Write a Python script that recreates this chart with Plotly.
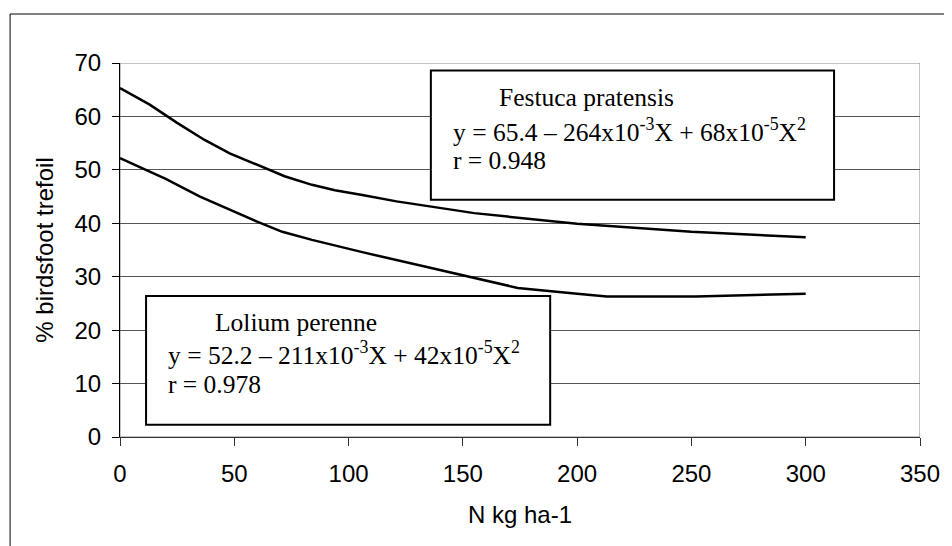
import plotly.graph_objects as go

# ---- data ----
n_festuca = [0, 13, 25, 37, 48, 60, 72, 84, 94, 106, 121, 155, 200, 250, 300]
festuca = [65.3, 62.2, 58.8, 55.6, 53.1, 50.9, 48.8, 47.2, 46.2, 45.3, 44.1, 41.9, 39.9, 38.4, 37.4]

n_lolium = [0, 20, 35, 60, 71, 84, 106, 128, 157, 174, 200, 213, 252, 300]
lolium = [52.2, 48.3, 45.0, 40.3, 38.4, 36.9, 34.6, 32.4, 29.6, 27.9, 26.8, 26.3, 26.3, 26.8]

x_ticks = [0, 50, 100, 150, 200, 250, 300, 350]
y_ticks = [0, 10, 20, 30, 40, 50, 60, 70]

x_title = "N kg ha-1"
y_title = "% birdsfoot trefoil"

fest_lines = ["Festuca pratensis",
              "y = 65.4 – 264x10<sup>-3</sup>X + 68x10<sup>-5</sup>X<sup>2</sup>",
              "r = 0.948"]
lol_lines = ["Lolium perenne",
             "y = 52.2 – 211x10<sup>-3</sup>X + 42x10<sup>-5</sup>X<sup>2</sup>",
             "r = 0.978"]

SANS = "Liberation Sans, Arial, sans-serif"
SERIF = "Liberation Serif, Times New Roman, serif"

fig = go.Figure()
fig.add_trace(go.Scatter(x=n_festuca, y=festuca, mode="lines",
                         line=dict(color="black", width=2.5), showlegend=False))
fig.add_trace(go.Scatter(x=n_lolium, y=lolium, mode="lines",
                         line=dict(color="black", width=2.5), showlegend=False))

# outer chart frame
fig.add_shape(type="rect", xref="paper", yref="paper",
              x0=-0.1374, x1=1.06, y0=-0.36, y1=1.131,
              line=dict(color="black", width=1), layer="below")
# plot area border (top / right)
fig.add_shape(type="rect", xref="x", yref="y", x0=0, x1=350, y0=0, y1=70,
              line=dict(color="#888888", width=1), layer="below")

# equation boxes
fig.add_shape(type="rect", xref="x", yref="y", x0=136, x1=312.4, y0=44.4, y1=68.6,
              line=dict(color="black", width=2), fillcolor="white", layer="above")
fig.add_shape(type="rect", xref="x", yref="y", x0=11.4, x1=188.2, y0=2.3, y1=26.4,
              line=dict(color="black", width=2), fillcolor="white", layer="above")

txt_font = dict(family=SERIF, size=25.5, color="black")
for (xx, yy, t) in [(164.8, 63.5, fest_lines[0]), (144.6, 57.3, fest_lines[1]), (144.6, 51.8, fest_lines[2]),
                    (40.5, 21.5, lol_lines[0]), (20.0, 15.6, lol_lines[1]), (20.0, 9.9, lol_lines[2])]:
    fig.add_annotation(x=xx, y=yy, xref="x", yref="y", text=t, showarrow=False,
                       xanchor="left", yanchor="middle", font=txt_font)

fig.update_xaxes(range=[0, 350], tickvals=x_ticks, ticks="outside", ticklen=8,
                 tickcolor="#333333", showline=True, linecolor="#333333", linewidth=1,
                 showgrid=False, zeroline=False,
                 tickfont=dict(family=SANS, size=24, color="black"),
                 ticklabelstandoff=7,
                 title=dict(text=x_title, font=dict(family=SANS, size=24, color="black"), standoff=20))
fig.update_yaxes(range=[0, 70], tickvals=y_ticks, ticks="outside", ticklen=7,
                 tickcolor="black", showline=True, linecolor="black", linewidth=1,
                 showgrid=True, gridcolor="#555555", gridwidth=1, zeroline=False,
                 tickfont=dict(family=SANS, size=24, color="black"),
                 ticklabelstandoff=6,
                 title=dict(text=y_title, font=dict(family=SANS, size=24, color="black"), standoff=14))

# page body has an 8px margin, so the figure is shifted by 8px; compensate
fig.update_layout(width=944, height=538, plot_bgcolor="white", paper_bgcolor="white",
                  margin=dict(l=112, r=21, t=55, b=109))

fig.write_html("out.html")
